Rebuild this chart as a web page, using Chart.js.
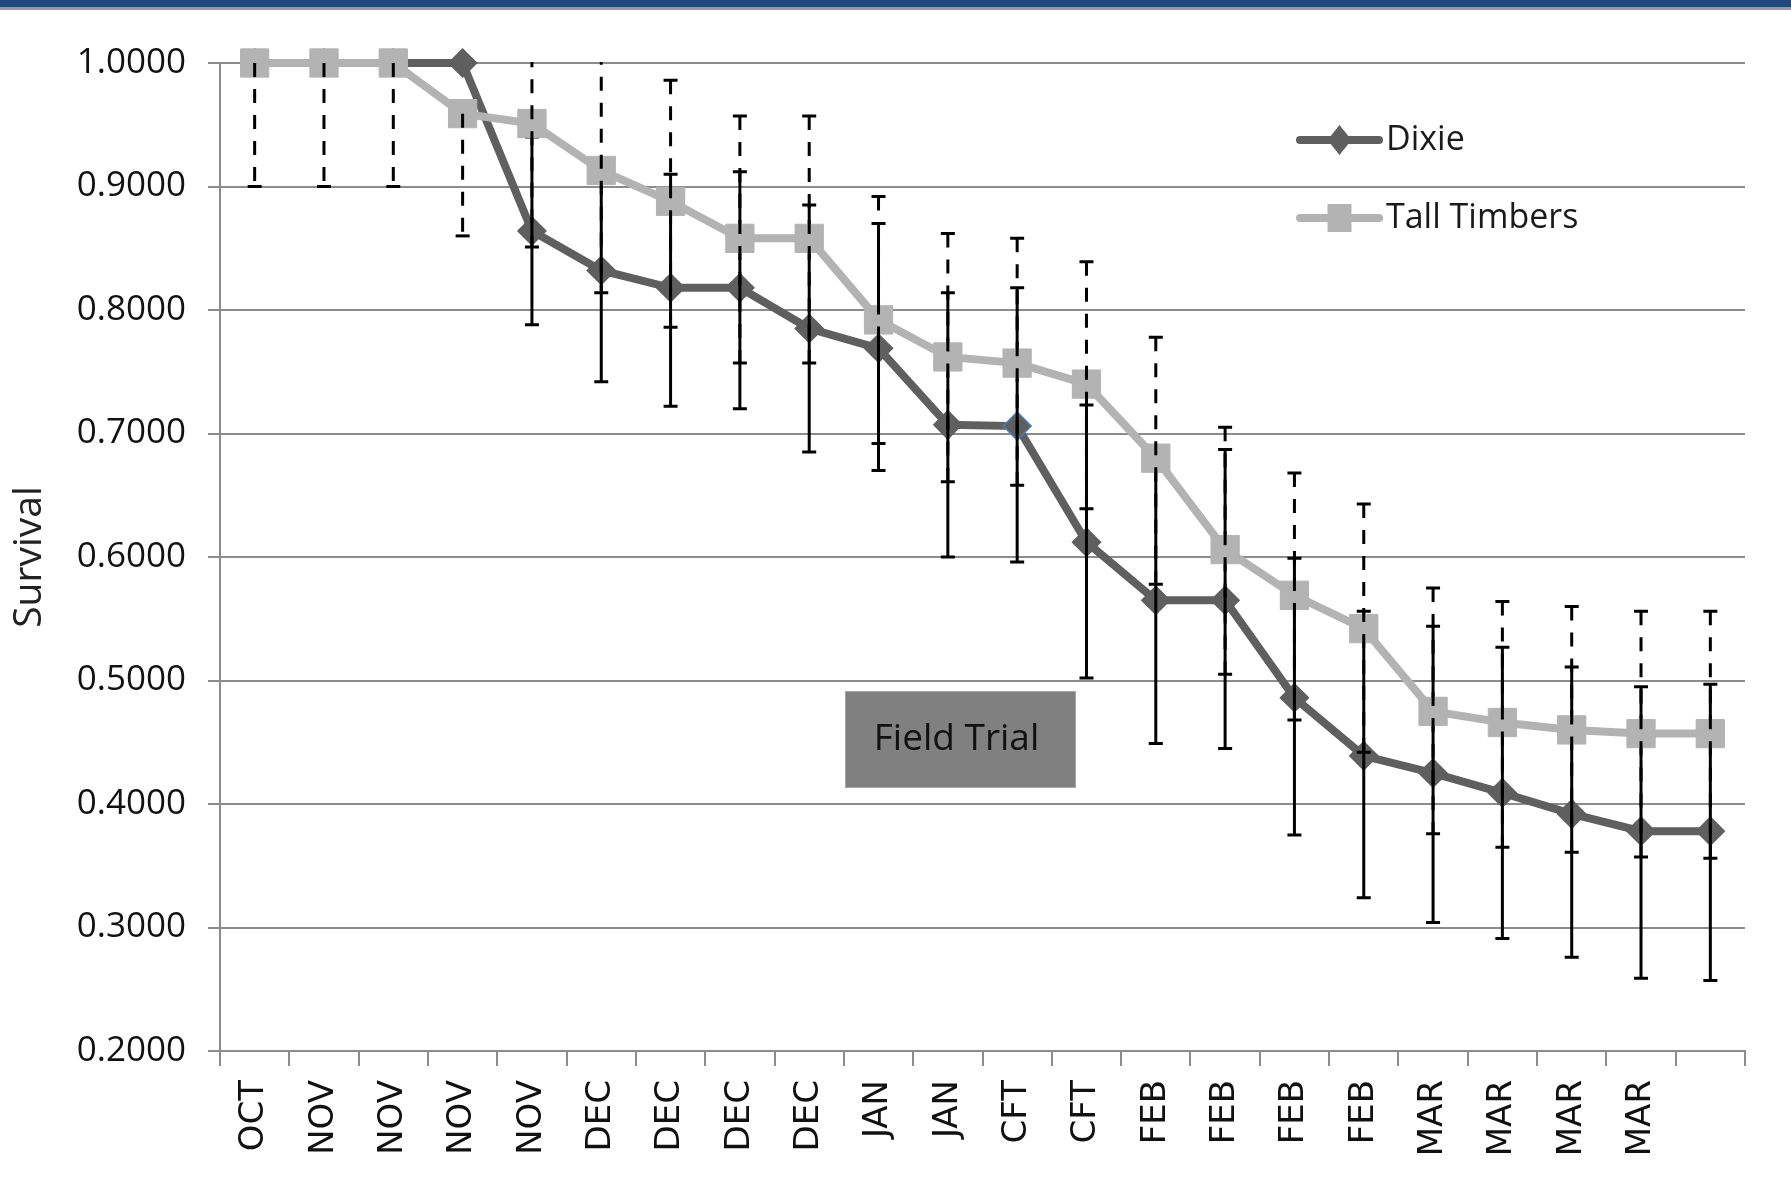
<!DOCTYPE html>
<html>
<head>
<meta charset="utf-8">
<script src="https://cdn.jsdelivr.net/npm/chart.js@4.4.1/dist/chart.umd.min.js"></script>
<style>
  body { margin: 0; background: #fff; }
  canvas { display: block; }
</style>
</head>
<body>
<canvas id="survivalChart" width="1791" height="1178"></canvas>
<script>
// sampling dates along the x axis
var labels = ['OCT','NOV','NOV','NOV','NOV','DEC','DEC','DEC','DEC','JAN','JAN','CFT','CFT','FEB','FEB','FEB','FEB','MAR','MAR','MAR','MAR',''];

// survival estimates
var dixie       = [1, 1, 1, 1, 0.864, 0.832, 0.818, 0.818, 0.785, 0.769, 0.707, 0.706, 0.612, 0.565, 0.565, 0.486, 0.439, 0.425, 0.409, 0.392, 0.378, 0.378];
var tallTimbers = [1, 1, 1, 0.959, 0.951, 0.913, 0.888, 0.858, 0.858, 0.792, 0.762, 0.757, 0.740, 0.680, 0.606, 0.569, 0.542, 0.475, 0.466, 0.460, 0.457, 0.457];

// confidence limits
var dixieLow  = [1, 1, 1, 1, 0.788, 0.742, 0.722, 0.720, 0.685, 0.670, 0.600, 0.596, 0.502, 0.449, 0.445, 0.375, 0.324, 0.304, 0.291, 0.276, 0.259, 0.257];
var dixieHigh = [1, 1, 1, 1, 0.940, 0.922, 0.910, 0.912, 0.885, 0.870, 0.814, 0.818, 0.723, 0.681, 0.687, 0.599, 0.556, 0.544, 0.527, 0.511, 0.495, 0.497];
var ttLow     = [0.9, 0.9, 0.9, 0.860, 0.851, 0.814, 0.786, 0.757, 0.757, 0.692, 0.661, 0.658, 0.639, 0.578, 0.505, 0.468, 0.442, 0.376, 0.365, 0.361, 0.357, 0.356];
var ttHigh    = [1, 1, 1, 0.959, 1.05, 1.01, 0.986, 0.957, 0.957, 0.892, 0.862, 0.858, 0.839, 0.778, 0.705, 0.668, 0.643, 0.575, 0.564, 0.560, 0.556, 0.556];

var dixieColor = '#5f5f5f';
var ttColor = '#b3b3b3';

// blue outline on the one highlighted Dixie marker
var dixieBorders = dixie.map(function (v, i) { return i === 11 ? '#4a7ebb' : dixieColor; });

var errorBars = {
  0: { low: dixieLow, high: dixieHigh, dash: [] },
  1: { low: ttLow, high: ttHigh, dash: [14, 12] }
};

var pagePlugin = {
  id: 'pagePlugin',
  beforeDraw: function (chart) {
    var ctx = chart.ctx;
    ctx.save();
    ctx.fillStyle = '#ffffff';
    ctx.fillRect(0, 0, chart.width, chart.height);
    ctx.fillStyle = '#1f497d';
    ctx.fillRect(0, 0, chart.width, 7);
    ctx.fillStyle = '#9a9a9a';
    ctx.fillRect(0, 7, chart.width, 3);
    ctx.restore();
  },
  afterDatasetDraw: function (chart, args) {
    var eb = errorBars[args.index];
    if (!eb) return;
    var ctx = chart.ctx;
    var y = chart.scales.y;
    var area = chart.chartArea;
    var vals = chart.data.datasets[args.index].data;
    ctx.save();
    ctx.beginPath();
    ctx.rect(area.left, area.top - 1, area.right - area.left, area.bottom - area.top + 2);
    ctx.clip();
    ctx.strokeStyle = '#000';
    ctx.lineWidth = 3;
    args.meta.data.forEach(function (pt, i) {
      var lo = eb.low[i], hi = eb.high[i];
      if (lo === hi) return;
      var yl = y.getPixelForValue(lo), yh = y.getPixelForValue(hi);
      ctx.setLineDash(eb.dash);
      ctx.beginPath();
      ctx.moveTo(pt.x, yh);
      ctx.lineTo(pt.x, yl);
      ctx.stroke();
      ctx.setLineDash([]);
      ctx.beginPath();
      if (lo !== vals[i]) { ctx.moveTo(pt.x - 7, yl); ctx.lineTo(pt.x + 7, yl); }
      if (hi !== vals[i]) { ctx.moveTo(pt.x - 7, yh); ctx.lineTo(pt.x + 7, yh); }
      ctx.stroke();
    });
    ctx.restore();
  },
  afterDraw: function (chart) {
    var ctx = chart.ctx;
    var a = chart.chartArea;
    ctx.save();

    // legend
    var items = [
      { text: 'Dixie', color: dixieColor, shape: 'diamond', dy: 77 },
      { text: 'Tall Timbers', color: ttColor, shape: 'square', dy: 155 }
    ];
    items.forEach(function (it) {
      var x0 = a.right - 445, x1 = a.right - 366, yy = a.top + it.dy, cx = (x0 + x1) / 2;
      ctx.strokeStyle = it.color;
      ctx.lineWidth = 8;
      ctx.lineCap = 'round';
      ctx.beginPath();
      ctx.moveTo(x0, yy);
      ctx.lineTo(x1, yy);
      ctx.stroke();
      ctx.fillStyle = it.color;
      ctx.beginPath();
      if (it.shape === 'diamond') {
        ctx.moveTo(cx, yy - 15); ctx.lineTo(cx + 12, yy); ctx.lineTo(cx, yy + 15); ctx.lineTo(cx - 12, yy);
      } else {
        ctx.rect(cx - 12, yy - 14, 24, 28);
      }
      ctx.closePath();
      ctx.fill();
      ctx.fillStyle = '#1a1a1a';
      ctx.font = '34px "Open Sans"';
      ctx.textAlign = 'left';
      ctx.textBaseline = 'middle';
      ctx.fillText(it.text, x1 + 7, yy);
    });

    // Field Trial label box
    var bx = a.left + 625, by = a.top + 628, bw = 231, bh = 97;
    ctx.fillStyle = '#808080';
    ctx.fillRect(bx, by, bw, bh);
    ctx.strokeStyle = '#a6a6a6';
    ctx.lineWidth = 1;
    ctx.strokeRect(bx + 0.5, by + 0.5, bw - 1, bh - 1);
    ctx.fillStyle = '#111';
    ctx.font = '37px "Open Sans"';
    ctx.textAlign = 'center';
    ctx.textBaseline = 'middle';
    ctx.fillText('Field Trial', bx + bw / 2 - 4, by + bh / 2);
    ctx.restore();
  }
};

var ctx = document.getElementById('survivalChart').getContext('2d');

var survivalChart = new Chart(ctx, {
  type: 'line',
  data: {
    labels: labels,
    datasets: [
      {
        label: 'Dixie',
        data: dixie,
        order: 1,
        borderColor: dixieColor,
        backgroundColor: dixieColor,
        borderWidth: 8,
        tension: 0,
        pointStyle: 'rectRot',
        pointRadius: 14,
        pointBackgroundColor: dixieColor,
        pointBorderColor: dixieBorders,
        pointBorderWidth: 1.5,
        clip: false
      },
      {
        label: 'Tall Timbers',
        data: tallTimbers,
        order: 0,
        borderColor: ttColor,
        backgroundColor: ttColor,
        borderWidth: 8,
        tension: 0,
        pointStyle: 'rect',
        pointRadius: 20,
        pointBackgroundColor: ttColor,
        pointBorderColor: ttColor,
        pointBorderWidth: 1,
        clip: false
      }
    ]
  },
  options: {
    responsive: false,
    animation: false,
    devicePixelRatio: 1,
    layout: { padding: { top: 63, right: 46, left: 0, bottom: 0 } },
    plugins: {
      legend: { display: false },
      tooltip: { enabled: false }
    },
    scales: {
      x: {
        offset: true,
        grid: { offset: true, drawOnChartArea: false, drawTicks: true, tickLength: 15, color: '#8c8c8c', lineWidth: 2 },
        border: { color: '#8c8c8c', width: 2 },
        ticks: {
          autoSkip: false,
          minRotation: 90,
          maxRotation: 90,
          padding: 14,
          color: '#111',
          font: { family: '"DejaVu Sans"', size: 34 }
        },
        afterFit: function (scale) { scale.height = 127; }
      },
      y: {
        min: 0.2,
        max: 1.0,
        ticks: {
          stepSize: 0.1,
          padding: 22,
          color: '#111',
          font: { family: '"Open Sans"', size: 35 },
          callback: function (v) { return Number(v).toFixed(4); }
        },
        grid: { color: '#8c8c8c', lineWidth: 2, tickLength: 12 },
        border: { color: '#8c8c8c', width: 2 },
        title: {
          display: true,
          text: 'Survival',
          color: '#222',
          font: { family: '"Open Sans"', size: 39 },
          padding: { top: 6, bottom: 0 }
        },
        afterFit: function (scale) { scale.width = 220; }
      }
    }
  },
  plugins: [pagePlugin]
});
</script>
</body>
</html>
